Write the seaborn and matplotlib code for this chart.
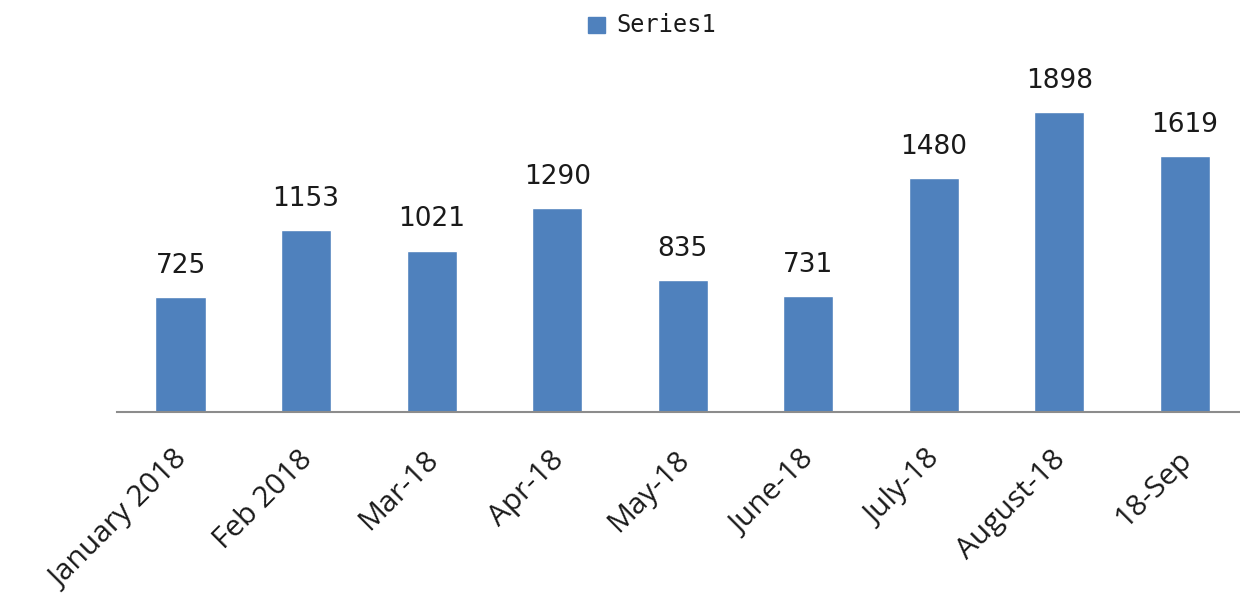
import matplotlib
matplotlib.use("Agg")
import matplotlib.pyplot as plt
import matplotlib.transforms as mtransforms
import seaborn as sns
import pandas as pd

categories = ["January 2018", "Feb 2018", "Mar-18", "Apr-18", "May-18",
              "June-18", "July-18", "August-18", "18-Sep"]
values = [725, 1153, 1021, 1290, 835, 731, 1480, 1898, 1619]
series_name = "Series1"

sns.set_theme(style="white")
plt.rcParams["font.family"] = ["DejaVu Sans"]

df = pd.DataFrame({"month": categories, "count": values, "series": series_name})

fig = plt.figure(figsize=(12.4, 6.03), dpi=100)
ax = fig.add_axes([0.094, 0.317, 0.906, 0.524])

bar_color = "#4F81BD"
sns.barplot(data=df, x="month", y="count", hue="series", palette=[bar_color],
            width=0.4, ax=ax, legend=False, saturation=1)

ax.set_xlim(-0.51, 8.44)
ax.set_ylim(0, 2000)

for i, v in enumerate(values):
    ax.annotate(f"{v}", (i, v), xytext=(0, 13), textcoords="offset points",
                ha="center", va="bottom", fontsize=19, color="#1a1a1a",
                clip_on=False)

for side in ["top", "right", "left"]:
    ax.spines[side].set_visible(False)
ax.spines["bottom"].set_color("#8c8c8c")
ax.spines["bottom"].set_linewidth(1.5)
ax.set_yticks([])
ax.set_xlabel("")
ax.set_ylabel("")
ax.tick_params(axis="x", length=0, pad=24)
ax.set_xticks(range(len(categories)))
ax.set_xticklabels(categories, rotation=45, ha="right", rotation_mode="anchor",
                   fontsize=21.5, family="Open Sans", color="#1a1a1a")
shift = mtransforms.ScaledTranslation(-8 / 100, 0, fig.dpi_scale_trans)
for lbl in ax.get_xticklabels():
    lbl.set_transform(lbl.get_transform() + shift)

# legend at top centre
fig.patches.append(plt.Rectangle((588 / 1240, 1 - 33 / 603), 17 / 1240, 16 / 603,
                                 transform=fig.transFigure, color=bar_color))
fig.text(616 / 1240, 1 - 25 / 603, series_name, ha="left", va="center",
         fontsize=17, family="DejaVu Sans Mono", color="#1a1a1a")

fig.savefig("out.png", dpi=100)
